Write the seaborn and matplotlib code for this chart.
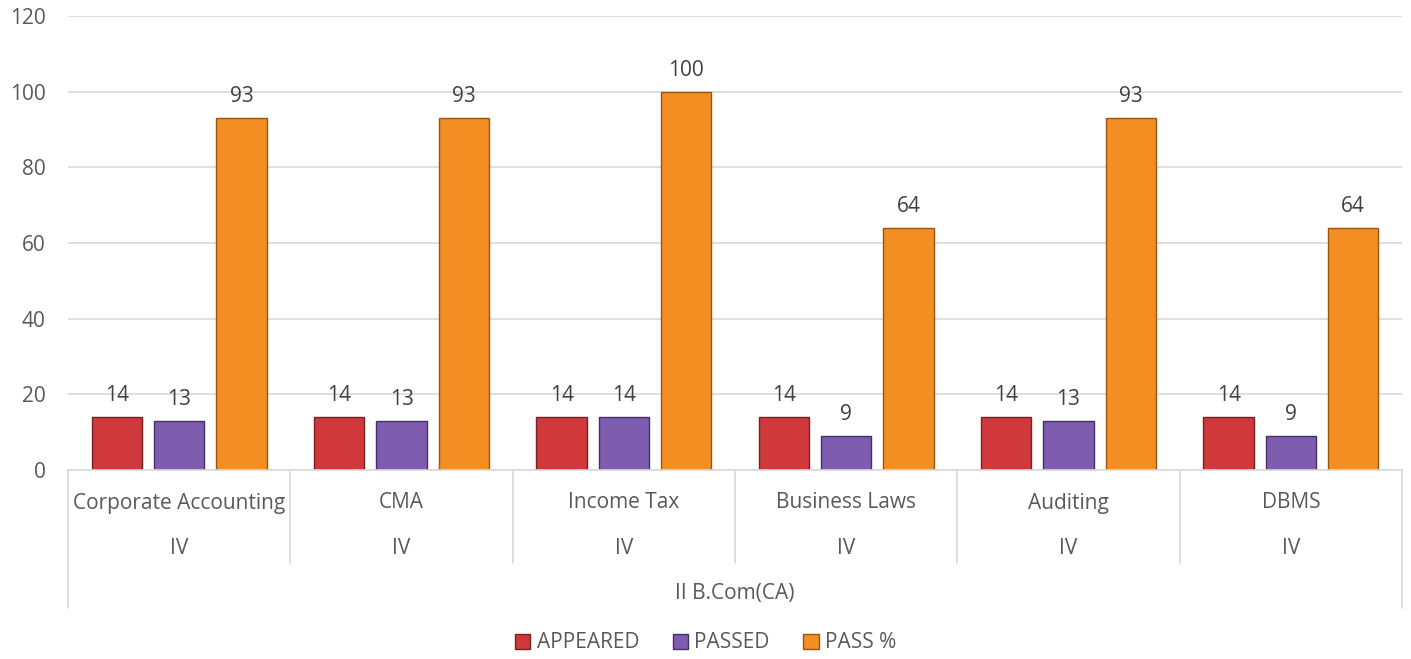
import matplotlib
matplotlib.use("Agg")
import matplotlib.pyplot as plt
import seaborn as sns
import pandas as pd
from matplotlib.patches import Patch

subjects = ["Corporate Accounting", "CMA", "Income Tax", "Business Laws", "Auditing", "DBMS"]
semesters = ["IV", "IV", "IV", "IV", "IV", "IV"]
group_label = "II B.Com(CA)"
series = ["APPEARED", "PASSED", "PASS %"]
appeared = [14, 14, 14, 14, 14, 14]
passed = [13, 13, 14, 9, 13, 9]
pass_pct = [93, 93, 100, 64, 93, 64]
colors = ["#D0393C", "#7E5CAF", "#F28E22"]
edge_colors = ["#7A1F22", "#46306A", "#9A5410"]

rows = []
for s, vals in zip(series, [appeared, passed, pass_pct]):
    for subj, v in zip(subjects, vals):
        rows.append({"subject": subj, "series": s, "value": v})
df = pd.DataFrame(rows)

sns.set_theme(style="white")
plt.rcParams["font.family"] = ["Open Sans", "DejaVu Sans"]
text_color = "#595959"
fs = 15

W, H = 1411, 659
fig = plt.figure(figsize=(W / 100, H / 100), dpi=100)
left, right, top, bottom = 68, 1402, 16, 470
ax = fig.add_axes([left / W, 1 - bottom / H, (right - left) / W, (bottom - top) / H])

sns.barplot(data=df, x="subject", y="value", hue="series", order=subjects,
            hue_order=series, palette=colors, width=0.84, gap=0.19,
            saturation=1, ax=ax, legend=False)

for cont, ec in zip(ax.containers, edge_colors):
    for p in cont:
        p.set_edgecolor(ec)
        p.set_linewidth(1.0)
    ax.bar_label(cont, padding=8, fontsize=fs, color="#404040")

ax.set_ylim(0, 120)
ax.set_yticks(range(0, 121, 20))
ax.set_xlim(-0.5, len(subjects) - 0.5)
ax.yaxis.grid(True, color="#D9D9D9", linewidth=1.2)
ax.set_axisbelow(True)
for sp in ["top", "right", "left"]:
    ax.spines[sp].set_visible(False)
ax.spines["bottom"].set_color("#D9D9D9")
ax.spines["bottom"].set_linewidth(1.2)
ax.tick_params(axis="y", length=0, pad=16, labelsize=fs, labelcolor=text_color)
ax.set_xticks(range(len(subjects)))
ax.set_xticklabels([""] * len(subjects))
ax.tick_params(axis="x", length=0)
ax.set_xlabel("")
ax.set_ylabel("")

axh = bottom - top
def ypix(px):
    return -px / axh

tr = ax.get_xaxis_transform()
for i, (subj, sem) in enumerate(zip(subjects, semesters)):
    ax.text(i, ypix(33), subj, transform=tr, ha="center", va="center",
            fontsize=fs, color=text_color)
    ax.text(i, ypix(78), sem, transform=tr, ha="center", va="center",
            fontsize=fs, color=text_color)
ax.text((len(subjects) - 1) / 2, ypix(123), group_label, transform=tr,
        ha="center", va="center", fontsize=fs, color=text_color)

for b in range(len(subjects) + 1):
    x = b - 0.5
    end = 138 if b in (0, len(subjects)) else 93
    ax.plot([x, x], [0, ypix(end)], transform=tr, color="#D9D9D9",
            linewidth=1.2, clip_on=False)

handles = [Patch(facecolor=c, edgecolor=e, label=s) for s, c, e in zip(series, colors, edge_colors)]
leg = fig.legend(handles=handles, loc="center", bbox_to_anchor=(0.5, 1 - 643 / H),
                 ncol=3, frameon=False, fontsize=fs, handlelength=0.75, handleheight=0.75,
                 handletextpad=0.3, columnspacing=1.6)
for t in leg.get_texts():
    t.set_color(text_color)

fig.savefig("out.png", dpi=100)
